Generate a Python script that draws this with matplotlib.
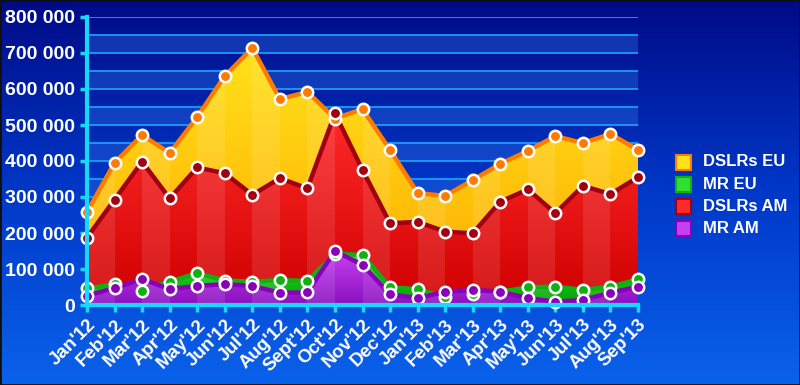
import matplotlib
matplotlib.use("Agg")
import matplotlib.pyplot as plt
import numpy as np
from matplotlib.colors import LinearSegmentedColormap
from matplotlib.patches import Polygon, Rectangle

plt.rcParams['font.family'] = ['Liberation Sans', 'DejaVu Sans']
plt.rcParams['font.weight'] = 'bold'

months = ["Jan'12", "Feb'12", "Mar'12", "Apr'12", "May'12", "Jun'12", "Jul'12",
          "Aug'12", "Sept'12", "Oct'12", "Nov'12", "Dec'12", "Jan'13", "Feb'13",
          "Mar'13", "Apr'13", "May'13", "Jun'13", "Jul'13", "Aug'13", "Sep'13"]

dslrs_eu = [258000, 395000, 472000, 422000, 522000, 636000, 714000, 572000, 592000, 518000,
            544000, 431000, 311000, 303000, 347000, 392000, 428000, 469000, 450000, 475000, 431000]
dslrs_am = [187000, 293000, 398000, 296000, 382000, 366000, 306000, 352000, 324000, 532000,
            375000, 227000, 231000, 204000, 199000, 287000, 321000, 255000, 331000, 308000, 355000]
mr_eu = [46000, 57000, 40000, 65000, 88000, 68000, 65000, 69000, 67000, 142000,
         139000, 49000, 44000, 21000, 30000, 37000, 49000, 51000, 42000, 51000, 71000]
mr_am = [26000, 47000, 72000, 44000, 53000, 58000, 53000, 34000, 35000, 150000,
         111000, 30000, 19000, 37000, 42000, 37000, 19000, 9000, 14000, 34000, 51000]

names = ["DSLRs EU", "MR EU", "DSLRs AM", "MR AM"]
series = [dslrs_eu, mr_eu, dslrs_am, mr_am]
line_colors = ["#FF7A00", "#10B010", "#A00010", "#8A00B8"]
top_colors = ["#FFE21A", "#30E030", "#FF2A2A", "#C640F0"]
bot_colors = ["#FFAA00", "#00A000", "#D00000", "#8A10C0"]
draw_order = [0, 2, 1, 3]

fig = plt.figure(figsize=(8, 3.85), dpi=100)

# background gradient
bg = fig.add_axes([0, 0, 1, 1], zorder=-5)
grad = np.linspace(0, 1, 256).reshape(-1, 1)
bg_cmap = LinearSegmentedColormap.from_list("bg", ["#000A86", "#0038C8", "#0A62EA"])
bg.imshow(grad, aspect='auto', cmap=bg_cmap, extent=[0, 1, 0, 1], origin='upper')
bg.set_axis_off()
fig.patches.append(Rectangle((0, 0), 1, 1, transform=fig.transFigure, fill=False,
                             edgecolor='#101010', lw=2))

ax = fig.add_axes([87 / 800, 80 / 385, 551 / 800, 288 / 385])
ax.set_facecolor('none')
x = np.arange(len(months))
ymax = 800000

# bands and grid lines
for i, lo in enumerate(range(0, ymax, 50000)):
    if i % 2 == 0:
        ax.axhspan(lo, lo + 50000, color='#2a6ae0', alpha=0.4, lw=0, zorder=0)
for v in range(50000, ymax + 1, 50000):
    ax.axhline(v, color='#1aa6ff', lw=1.2, zorder=0.5)

for k, idx in enumerate(draw_order):
    y = np.array(series[idx], dtype=float)
    z = 2 + k
    verts = [(x[0], 0)] + list(zip(x, y)) + [(x[-1], 0)]
    patch = Polygon(verts, closed=True, facecolor=bot_colors[idx], edgecolor='none', zorder=z)
    ax.add_patch(patch)
    cmap = LinearSegmentedColormap.from_list("a%d" % idx, [bot_colors[idx], top_colors[idx]])
    im = ax.imshow(np.linspace(0, 1, 128).reshape(-1, 1), aspect='auto', cmap=cmap,
                   extent=[x[0], x[-1], 0, y.max()], origin='lower', zorder=z)
    im.set_clip_path(patch)
    for c in range(0, len(x) - 1, 2):
        s = ax.axvspan(c, c + 1, color='white', alpha=0.1, lw=0, zorder=z)
        s.set_clip_path(patch)
    ax.plot(x, y, color=line_colors[idx], lw=3.2, zorder=z, solid_joinstyle='round',
            clip_on=False)
    ax.plot(x, y, 'o', ms=8.2, mfc=line_colors[idx], mec='white', mew=1.8, zorder=10 + k,
            clip_on=False)

ax.set_xlim(0, len(months) - 1)
ax.set_ylim(0, ymax)
ax.set_xticks(x)
ax.set_xticklabels(months, rotation=45, ha='right', rotation_mode='anchor',
                   color='white', fontsize=13.5, fontweight='bold')
yt = list(range(0, ymax + 1, 100000))
ax.set_yticks(yt)
ax.set_yticklabels(["{:,}".format(v).replace(",", " ") for v in yt],
                   color='white', fontsize=14, fontweight='bold')
ax.tick_params(axis='both', colors='#18D8FF', width=2.5, length=5, labelcolor='white')
ax.tick_params(axis='x', pad=3)
for side in ['top', 'right']:
    ax.spines[side].set_visible(False)
for side in ['left', 'bottom']:
    ax.spines[side].set_color('#18D8FF')
    ax.spines[side].set_linewidth(3)
    ax.spines[side].set_zorder(20)

# legend
for i, idx in enumerate([0, 1, 2, 3]):
    yy = (385 - 162 - i * 22.3) / 385
    fig.patches.append(Rectangle((676 / 800, yy - 7.5 / 385), 15 / 800, 15 / 385,
                                 transform=fig.transFigure, facecolor=top_colors[idx],
                                 edgecolor=line_colors[idx], lw=1.5))
    fig.text(703 / 800, yy, names[idx], color='white', fontsize=12, fontweight='bold',
             va='center', ha='left')

fig.savefig("out.png", dpi=100)
